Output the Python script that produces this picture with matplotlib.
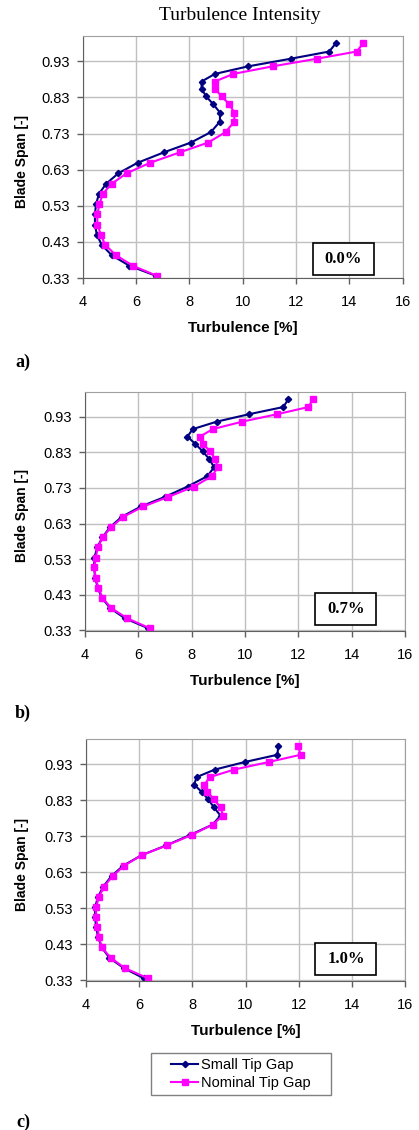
import matplotlib
matplotlib.use("Agg")
import matplotlib.pyplot as plt
from matplotlib.patches import Rectangle

# blade span positions of the traverse points (shared by all panels)
span = [0.980, 0.957, 0.937, 0.916, 0.895, 0.874, 0.854, 0.833, 0.811, 0.788,
        0.763, 0.734, 0.705, 0.678, 0.649, 0.620, 0.591, 0.563, 0.534, 0.507,
        0.478, 0.450, 0.422, 0.393, 0.364, 0.336]

# turbulence [%] per panel
a_small = [13.5, 13.25, 11.8, 10.21, 8.96, 8.46, 8.46, 8.63, 8.9, 9.15, 9.15, 8.81, 8.06,
           7.05, 6.06, 5.34, 4.88, 4.61, 4.5, 4.46, 4.46, 4.53, 4.71, 5.09, 5.75, 6.75]
a_nominal = [14.53, 14.28, 12.78, 11.13, 9.65, 8.96, 8.96, 9.21, 9.5, 9.69, 9.69, 9.36, 8.71,
             7.65, 6.53, 5.65, 5.09, 4.75, 4.63, 4.55, 4.55, 4.68, 4.84, 5.25, 5.88, 6.78]
b_small = [11.63, 11.44, 10.16, 8.94, 8.04, 7.84, 8.13, 8.41, 8.66, 8.84, 8.59, 7.85, 7.0,
           6.1, 5.38, 4.94, 4.65, 4.46, 4.35, 4.34, 4.38, 4.48, 4.63, 4.94, 5.5, 6.38]
b_nominal = [12.56, 12.38, 11.21, 9.9, 8.79, 8.31, 8.41, 8.69, 8.88, 8.98, 8.76, 8.09, 7.13,
             6.19, 5.44, 4.98, 4.66, 4.48, 4.4, 4.35, 4.4, 4.5, 4.65, 4.98, 5.59, 6.44]
c_small = [11.23, 11.2, 9.98, 8.85, 8.16, 8.07, 8.35, 8.6, 8.81, 9.06, 8.76, 7.91, 7.01,
           6.09, 5.4, 4.96, 4.65, 4.46, 4.34, 4.34, 4.38, 4.46, 4.59, 4.88, 5.43, 6.18]
c_nominal = [11.98, 12.07, 10.88, 9.58, 8.66, 8.45, 8.57, 8.81, 9.06, 9.16, 8.76, 7.97, 7.03,
             6.09, 5.44, 5.0, 4.68, 4.49, 4.38, 4.38, 4.43, 4.49, 4.59, 4.93, 5.47, 6.34]

gaps = ["0.0%", "0.7%", "1.0%"]
letters = ["a)", "b)", "c)"]
xticks = [4, 6, 8, 10, 12, 14, 16]
yticks = [0.33, 0.43, 0.53, 0.63, 0.73, 0.83, 0.93]

SANS = ["Liberation Sans", "DejaVu Sans"]
SERIF = ["Liberation Serif", "DejaVu Serif"]
plt.rcParams["font.family"] = SANS

W, H = 419, 1130
fig = plt.figure(figsize=(W / 100, H / 100), dpi=100)

# axes boxes in pixels: left, right, top, bottom
boxes = [(82.7, 402.5, 36, 278), (85, 405, 391.7, 630.5), (86, 405, 739.3, 980.5)]
letter_y = [362, 713, 1122]
panels = [(a_small, a_nominal), (b_small, b_nominal), (c_small, c_nominal)]

handles = None
for i, ((l, r, t, b), (small, nominal)) in enumerate(zip(boxes, panels)):
    ax = fig.add_axes([l / W, 1 - b / H, (r - l) / W, (b - t) / H])
    h1, = ax.plot(small, span, color="#000080", lw=1.5, marker="D", ms=3.2,
                  label="Small Tip Gap")
    h2, = ax.plot(nominal, span, color="#FF00FF", lw=1.5, marker="s", ms=4.8,
                  label="Nominal Tip Gap")
    handles = [h1, h2]
    ax.set_xlim(4, 16)
    ax.set_ylim(0.33, 1.0)
    ax.set_xticks(xticks)
    ax.set_yticks(yticks)
    ax.set_yticklabels([f"{v:.2f}" for v in yticks])
    ax.grid(True, color="#c0c0c0", lw=1.0)
    ax.set_axisbelow(True)
    for side in ("top", "right"):
        ax.spines[side].set_color("#a0a0a0")
    for side in ("left", "bottom"):
        ax.spines[side].set_color("#606060")
    ax.tick_params(direction="out", length=4, width=1, color="#606060", labelsize=10.5)
    ax.tick_params(axis="x", pad=8.5)
    ax.tick_params(axis="y", pad=5.5)
    ax.set_xlabel("Turbulence [%]", fontsize=11, fontweight="bold")
    ax.xaxis.set_label_coords(0.5, -(50 / (b - t)))
    ax.xaxis.label.set_va("center")
    ax.set_ylabel("Blade Span [-]", fontsize=10, fontweight="bold")
    ax.yaxis.set_label_coords(-(l - 21.7) / (r - l), 0.48)
    ax.yaxis.label.set_va("center")

    # boxed tip gap label
    bw, bh = 61 / (r - l), 32 / (b - t)
    cx, cy = 0.815, [0.079, 0.088, 0.089][i]
    ax.add_patch(Rectangle((cx - bw / 2, cy - bh / 2), bw, bh, transform=ax.transAxes,
                           facecolor="white", edgecolor="black", lw=1.2, zorder=5))
    ax.text(cx, cy, gaps[i], transform=ax.transAxes, ha="center", va="center",
            fontsize=12, fontweight="bold", family=SERIF, zorder=6)

    fig.text(23 / W, 1 - letter_y[i] / H, letters[i], ha="center", va="center",
             fontsize=13, fontweight="bold", family=SERIF)

fig.text(240 / W, 1 - 15 / H, "Turbulence Intensity", ha="center", va="center",
         fontsize=14, family=SERIF)

# legend frame drawn separately so its padding matches the original
fig.add_artist(Rectangle((150.7 / W, 1 - 1095 / H), 180 / W, 42 / H,
                         transform=fig.transFigure, facecolor="white",
                         edgecolor="#808080", lw=1.0))
fig.legend(handles=handles, loc="center left", bbox_to_anchor=(170.7 / W, 1 - 1074 / H),
           fontsize=10.5, frameon=False, borderpad=0, borderaxespad=0,
           handlelength=1.9, handletextpad=0.15, labelspacing=0.25)

fig.savefig("out.png", dpi=100)
